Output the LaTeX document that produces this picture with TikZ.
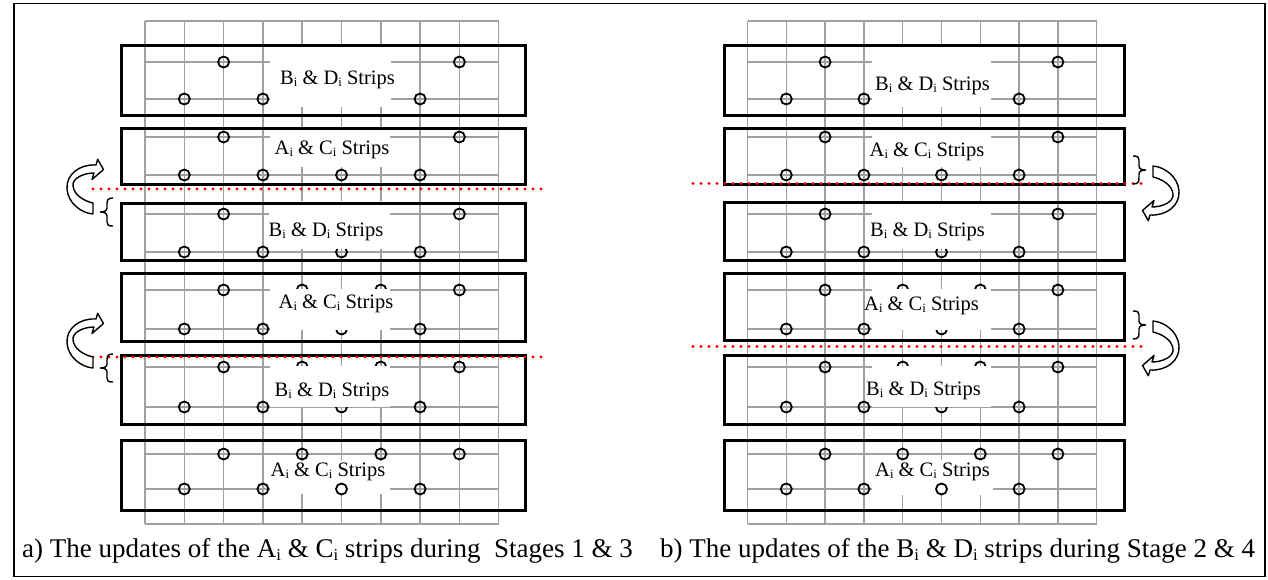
\documentclass[tikz,border=0pt]{standalone}
\usepackage{fontspec}
\setmainfont{Liberation Serif}
\definecolor{gridgray}{RGB}{160,160,160}
\definecolor{dotred}{RGB}{255,0,0}
\newcommand\ssub[1]{\raisebox{-0.12em}{\scalebox{0.62}{#1}}}
% grid of one panel: left edge, column step
\newcommand\drawgrid[2]{%
  \foreach \k in {0,...,9} \draw[gridline] ({#1+#2*\k},21) -- ({#1+#2*\k},524);
  \foreach \yy in {21,62,99,137,175,214,252,290,329,367,407,454,489,524}
    \draw[gridline] (#1,\yy) -- ({#1+9*#2},\yy);}
% the eight nodes of one strip: left edge, step, upper row, lower row
\newcommand\rowdots[4]{%
  \foreach \k in {2,4,6,8} \draw[dot] ({#1+#2*\k},#3) circle (5.5);
  \foreach \k in {1,3,5,7} \draw[dot] ({#1+#2*\k},#4) circle (5.5);}
\tikzset{
  gridline/.style={draw=gridgray, line width=1.5pt},
  stripbox/.style={draw=black, line width=3pt},
  dot/.style={draw=black, line width=1.8pt},
  cut/.style={draw=dotred, line width=3.4pt, line cap=round, dash pattern=on 0pt off 8pt},
  brace/.style={draw=black, line width=1.4pt},
  bentarrow/.style={draw=black, fill=white, line width=1.4pt, line join=round},
  striplabel/.style={font=\fontsize{20.5}{24}\selectfont, inner sep=0pt, anchor=base west},
  caption/.style={font=\fontsize{27}{31}\selectfont, anchor=base west, inner sep=0pt},
  bent arrow/.pic={
    \draw[bentarrow] (10,-22) -- (11.7,-27.7) -- (17.5,-17.5) -- (6,-7.5) -- (8,-14)
      .. controls (-2,-14) and (-14,-9) .. (-13,-1)
      .. controls (-12,8) and (-2,14) .. (7,16) -- (7,27)
      .. controls (-5,26) and (-18,16) .. (-19,2)
      .. controls (-20,-13) and (-6,-23) .. cycle;},
  curly/.pic={
    \draw[brace] (13,-14) .. controls (8,-14) and (7,-12) .. (7,-8) -- (7,-4)
      .. controls (7,-1) and (4,0) .. (0,0)
      .. controls (4,0) and (7,1) .. (7,4) -- (7,10)
      .. controls (7,13) and (8,14) .. (13,14);},
}
\begin{document}
\begin{tikzpicture}[x=1pt,y=-1pt]
\useasboundingbox (0,0) rectangle (1268,579);
\fill[white] (0,0) rectangle (1268,579);
\draw[line width=1.5pt] (14,3.5) rectangle (1265,576.5);

% ---------- panel a ----------
\drawgrid{145}{39.3}
\foreach \t/\b in {62/99,137/175,214/252,290/329,367/407} {\rowdots{145}{39.3}{\t}{\b}}
\fill[white] (270,44) rectangle (391,107);
\fill[white] (270,127) rectangle (390,167);
\fill[white] (269,201) rectangle (390,249);
\fill[white] (270,289) rectangle (390,330);
\fill[white] (270,366) rectangle (390,407);
\fill[white] (270,461) rectangle (390,494);
\node[striplabel] (a1) at (280,84) {B\ssub{i} \& D\ssub{i} Strips};
\node[striplabel] (a2) at (274.5,154) {A\ssub{i} \& C\ssub{i} Strips};
\node[striplabel] (a3) at (268.5,236) {B\ssub{i} \& D\ssub{i} Strips};
\node[striplabel] (a4) at (278.5,308) {A\ssub{i} \& C\ssub{i} Strips};
\node[striplabel] (a5) at (274.5,396.5) {B\ssub{i} \& D\ssub{i} Strips};
\node[striplabel] (a6) at (270.5,476) {A\ssub{i} \& C\ssub{i} Strips};
\rowdots{145}{39.3}{454}{489}
\draw[stripbox] (121.5,45.5) rectangle (525.5,115.5);
\draw[stripbox] (121.5,128.5) rectangle (525.5,184);
\draw[stripbox] (121.5,203) rectangle (525.5,260);
\draw[stripbox] (121.5,273.5) rectangle (525.5,341.5);
\draw[stripbox] (121.5,355.5) rectangle (525.5,424.5);
\draw[stripbox] (121.5,440.5) rectangle (525.5,510.5);
\draw[cut] (93,189) -- (543,189);
\draw[cut] (93,357) -- (543,357);
\pic at (86,187) {bent arrow};
\pic at (86,341) {bent arrow};
\pic at (100,212) {curly};
\pic at (100,368) {curly};
\node[caption] (capa) at (22,557) {a) The updates of the A\ssub{i} \& C\ssub{i} strips during \ Stages 1 \& 3};

% ---------- panel b ----------
\drawgrid{747.5}{38.8}
\foreach \t/\b in {62/99,137/175,214/252,290/329,367/407} {\rowdots{747.5}{38.8}{\t}{\b}}
\fill[white] (872,44) rectangle (991,107);
\fill[white] (872,127) rectangle (991,167);
\fill[white] (872,201) rectangle (991,249);
\fill[white] (872,289) rectangle (991,330);
\fill[white] (872,366) rectangle (991,407);
\fill[white] (872,460) rectangle (993,495);
\node[striplabel] (b1) at (875,90) {B\ssub{i} \& D\ssub{i} Strips};
\node[striplabel] (b2) at (869.5,156.5) {A\ssub{i} \& C\ssub{i} Strips};
\node[striplabel] (b3) at (870,236.5) {B\ssub{i} \& D\ssub{i} Strips};
\node[striplabel] (b4) at (864,310) {A\ssub{i} \& C\ssub{i} Strips};
\node[striplabel] (b5) at (866,395) {B\ssub{i} \& D\ssub{i} Strips};
\node[striplabel] (b6) at (875,476.5) {A\ssub{i} \& C\ssub{i} Strips};
\rowdots{747.5}{38.8}{454}{489}
\draw[stripbox] (724.5,45.5) rectangle (1124.5,115.5);
\draw[stripbox] (724.5,128.5) rectangle (1124.5,184.5);
\draw[stripbox] (724.5,202.5) rectangle (1124.5,260.5);
\draw[stripbox] (724.5,273.5) rectangle (1124.5,340.5);
\draw[stripbox] (724.5,355.5) rectangle (1124.5,424.5);
\draw[stripbox] (724.5,440.5) rectangle (1124.5,510);
\draw[cut] (693,183.5) -- (1143,183.5);
\draw[cut] (693,346.5) -- (1143,346.5);
\pic[rotate=180] at (1160,193) {bent arrow};
\pic[rotate=180] at (1160,348) {bent arrow};
\pic[rotate=180] at (1146,170) {curly};
\pic[rotate=180] at (1146,325) {curly};
\node[caption] (capb) at (660,557) {b) The updates of the B\ssub{i} \& D\ssub{i} strips during Stage 2 \& 4};
\end{tikzpicture}
\end{document}
